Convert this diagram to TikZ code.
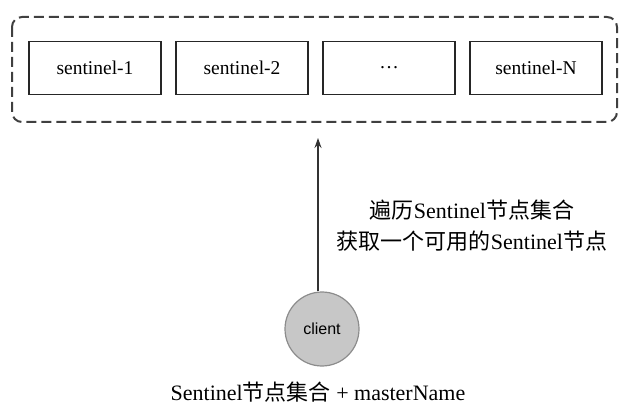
\documentclass[tikz,border=0pt]{standalone}
\usepackage{fontspec}
\setmainfont{Liberation Serif}
\setsansfont{Liberation Sans}
\newfontfamily\cjk{Noto Sans CJK SC}
\usetikzlibrary{arrows.meta}
\begin{document}
\begin{tikzpicture}[x=1pt,y=-1pt,
  sbox/.style={draw=black!85,line width=1.8pt,minimum width=132pt,minimum height=53pt,font=\fontsize{19.5}{22}\selectfont,inner sep=0pt},
  grp/.style={draw=black!75,line width=2pt,dash pattern=on 10pt off 5pt,rounded corners=10pt},
  lbl/.style={font=\fontsize{22}{26}\selectfont,align=center,inner sep=0pt}]
\useasboundingbox (0,0) rectangle (631,419);
\node[sbox] (s1) at (95,68) {sentinel-1};
\node[sbox] (s2) at (242,68) {sentinel-2};
\node[sbox] (s3) at (389,68) {\raisebox{2pt}{\textellipsis}};
\node[sbox] (s4) at (536,68) {sentinel-N};
\draw[grp] (12,17) rectangle (617,122);
\coordinate (top) at (318,138);
\node[circle,draw=black!45,fill=black!22,line width=1.2pt,minimum size=74pt,font=\sffamily\fontsize{16}{18}\selectfont] (client) at (322,329) {client};
\draw[line width=1.3pt,black!80,-{Stealth[length=10pt,width=7pt]}] (client.north -| top) -- (top);
\node[lbl] (t1) at (472,210) {{\cjk 遍历}Sentinel{\cjk 节点集合}};
\node[lbl] (t2) at (472,241) {{\cjk 获取一个可用的}Sentinel{\cjk 节点}};
\node[lbl] (t3) at (318,392) {Sentinel{\cjk 节点集合} + masterName};
\end{tikzpicture}
\end{document}
